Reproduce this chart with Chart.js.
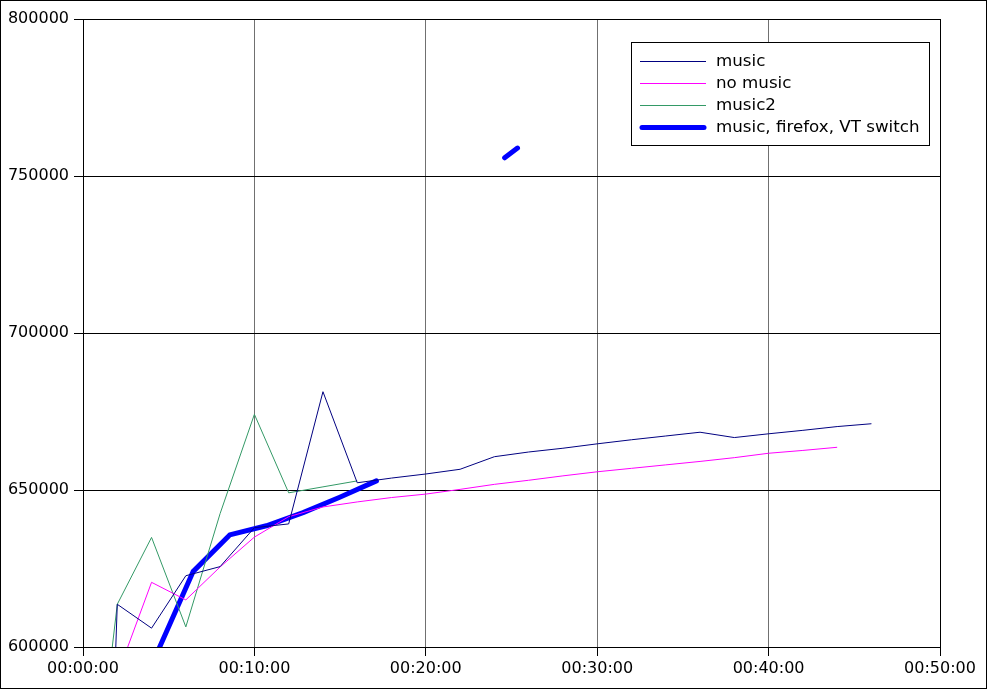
<!DOCTYPE html>
<html>
<head>
<meta charset="utf-8">
<script src="https://cdn.jsdelivr.net/npm/chart.js@4/dist/chart.umd.min.js"></script>
<style>
    html, body { margin: 0; padding: 0; background: #fff; }
    #wrap { width: 987px; height: 689px; position: relative; }
</style>
</head>
<body>
<div id="wrap"><canvas id="chartMemory"></canvas></div>
<script>
// elapsed time in minutes
const musicTimes = [1.85, 2, 4, 6, 8, 10, 12, 14, 16, 18, 20, 22, 24, 26, 28, 30, 32, 34, 36, 38, 40, 42, 44, 46];
const musicValues = [590000, 613600, 606000, 622700, 625600, 638000, 639200, 681300, 652300, 653800, 655100, 656600,
    660600, 662100, 663300, 664700, 666000, 667200, 668400, 666700, 667900, 669000, 670200, 671100];

const noMusicTimes = [2, 4, 6, 8, 10, 12, 14, 16, 18, 20, 22, 24, 26, 28, 30, 32, 34, 36, 38, 40, 42, 44];
const noMusicValues = [591000, 620600, 615000, 625500, 635000, 641500, 644600, 646200, 647600, 648700, 650200,
    651800, 653100, 654500, 655800, 656900, 658000, 659100, 660300, 661700, 662600, 663600];

const music2Times = [1.6, 2, 4, 6, 8, 10, 12, 14, 16];
const music2Values = [595000, 613600, 634900, 606400, 642500, 674100, 649100, 651000, 652900];

const vtTimes = [4.28, 6.42, 8.56, 10.7, 12.84, 14.98, 17.12, 20, 24.6, 25.35];
const vtValues = [597600, 624000, 635700, 638600, 642800, 647700, 652900, null, 755800, 758900];

const xTicks = [0, 10, 20, 30, 40, 50];
const yTicks = [600000, 650000, 700000, 750000, 800000];

(() => {
    const font = 'DejaVu Sans';
    const toPoints = (times, values) => times.map((t, i) => ({ x: t, y: values[i] }));
    const fmtTime = (min) => {
        const h = Math.floor(min / 60);
        const m = Math.floor(min % 60);
        const s = Math.round((min * 60) % 60);
        const p = (n) => String(n).padStart(2, '0');
        return `${p(h)}:${p(m)}:${p(s)}`;
    };

    const series = [
        { label: 'music', times: musicTimes, values: musicValues, color: '#000080', width: 1 },
        { label: 'no music', times: noMusicTimes, values: noMusicValues, color: '#ff00ff', width: 1 },
        { label: 'music2', times: music2Times, values: music2Values, color: '#339966', width: 1 },
        { label: 'music, firefox, VT switch', times: vtTimes, values: vtValues, color: '#0000ff', width: 5 }
    ];

    // frame around the picture, box round the plot and the legend box
    const framePlugin = {
        id: 'frame',
        afterDraw(chart) {
            const ctx = chart.ctx;
            const area = chart.chartArea;
            ctx.save();
            ctx.strokeStyle = '#000';
            ctx.lineWidth = 1;
            ctx.strokeRect(0.5, 0.5, chart.width - 1, chart.height - 1);
            ctx.strokeRect(Math.round(area.left) + 0.5, Math.round(area.top) + 0.5,
                Math.round(area.right - area.left), Math.round(area.bottom - area.top));

            // legend
            const lx = 631, ly = 42, lw = 298, lh = 103;
            ctx.fillStyle = '#fff';
            ctx.fillRect(lx, ly, lw, lh);
            ctx.strokeStyle = '#000';
            ctx.strokeRect(lx + 0.5, ly + 0.5, lw, lh);
            ctx.font = `16.7px "${font}"`;
            ctx.textBaseline = 'middle';
            ctx.textAlign = 'left';
            series.forEach((s, i) => {
                const y = 61 + i * 22;
                if (s.width > 1) {
                    ctx.beginPath();
                    ctx.strokeStyle = s.color;
                    ctx.lineWidth = s.width;
                    ctx.lineCap = 'round';
                    ctx.moveTo(642, y + 0.5);
                    ctx.lineTo(704, y + 0.5);
                    ctx.stroke();
                } else {
                    ctx.fillStyle = s.color;
                    ctx.fillRect(640, y, 66, 1);
                }
                ctx.fillStyle = '#000';
                ctx.fillText(s.label, 716, y + 1);
            });
            ctx.restore();
        }
    };

    const canvas = document.getElementById('chartMemory');
    new Chart(canvas, {
        type: 'line',
        data: {
            datasets: series.map((s) => ({
                label: s.label,
                data: toPoints(s.times, s.values),
                borderColor: s.color,
                backgroundColor: s.color,
                borderWidth: s.width,
                borderCapStyle: s.width > 1 ? 'round' : 'butt',
                borderJoinStyle: 'round',
                pointRadius: 0,
                tension: 0,
                spanGaps: false,
                fill: false
            }))
        },
        options: {
            responsive: true,
            maintainAspectRatio: false,
            animation: false,
            events: [],
            layout: { padding: { top: 19, right: 47, left: 0, bottom: 0 } },
            plugins: {
                legend: { display: false },
                tooltip: { enabled: false }
            },
            scales: {
                x: {
                    type: 'linear',
                    min: 0,
                    max: 50,
                    afterBuildTicks(scale) {
                        scale.ticks = xTicks.map((v) => ({ value: v }));
                    },
                    afterFit(scale) { scale.height = 42; },
                    ticks: {
                        color: '#000',
                        font: { family: font, size: 16 },
                        padding: 3,
                        maxRotation: 0,
                        callback: (v) => fmtTime(v)
                    },
                    grid: { color: '#707070', tickColor: '#000', tickLength: 9 },
                    border: { color: '#000' }
                },
                y: {
                    min: 600000,
                    max: 800000,
                    afterBuildTicks(scale) {
                        scale.ticks = yTicks.map((v) => ({ value: v }));
                    },
                    afterFit(scale) { scale.width = 83; },
                    ticks: {
                        color: '#000',
                        font: { family: font, size: 16 },
                        padding: 5,
                        callback: (v) => String(v)
                    },
                    grid: { color: '#000', tickColor: '#000', tickLength: 9 },
                    border: { color: '#000' }
                }
            }
        },
        plugins: [framePlugin]
    });
})();
</script>
</body>
</html>
